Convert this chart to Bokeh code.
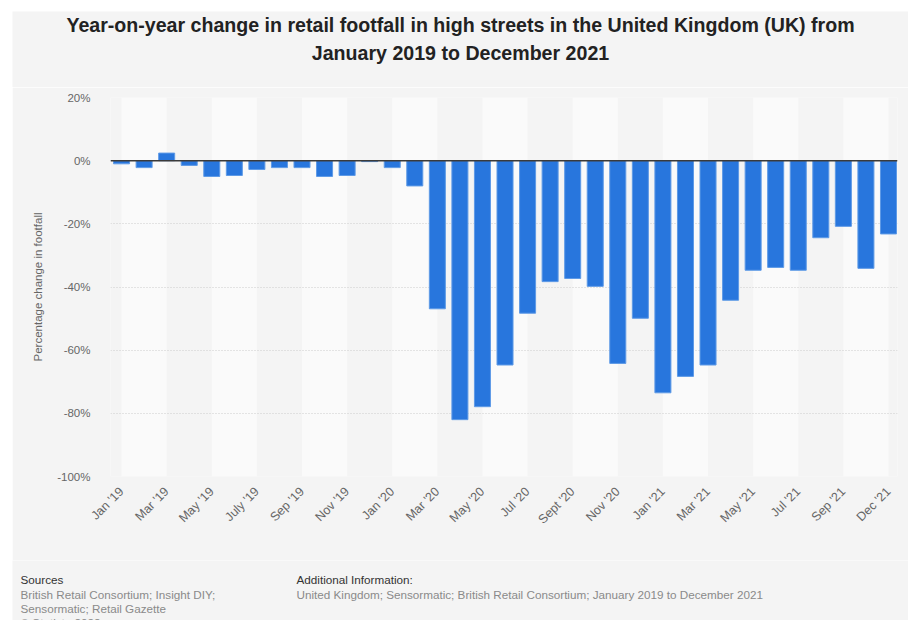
import math
from bokeh.plotting import figure
from bokeh.models import FixedTicker, PrintfTickFormatter, Span, Spacer
from bokeh.layouts import column, row
from bokeh.embed import file_html
from bokeh.resources import INLINE
from bokeh.core.properties import value

# ---------------- data ----------------
months = [
    "Jan 2019", "Feb 2019", "Mar 2019", "Apr 2019", "May 2019", "Jun 2019",
    "Jul 2019", "Aug 2019", "Sep 2019", "Oct 2019", "Nov 2019", "Dec 2019",
    "Jan 2020", "Feb 2020", "Mar 2020", "Apr 2020", "May 2020", "Jun 2020",
    "Jul 2020", "Aug 2020", "Sep 2020", "Oct 2020", "Nov 2020", "Dec 2020",
    "Jan 2021", "Feb 2021", "Mar 2021", "Apr 2021", "May 2021", "Jun 2021",
    "Jul 2021", "Aug 2021", "Sep 2021", "Oct 2021", "Dec 2021",
]
change_pct = [
    -1.0, -2.2, 2.4, -1.5, -5.0, -4.7, -2.8, -2.2, -2.2, -5.0, -4.7, -0.3,
    -2.2, -8.0, -46.9, -82.0, -77.9, -64.7, -48.3, -38.3, -37.3, -39.8, -64.2, -49.9,
    -73.5, -68.3, -64.7, -44.2, -34.7, -33.8, -34.7, -24.4, -20.8, -34.1, -23.2,
]
tick_labels = [
    "Jan '19", "", "Mar '19", "", "May '19", "", "July '19", "", "Sep '19", "",
    "Nov '19", "", "Jan '20", "", "Mar '20", "", "May '20", "", "Jul '20", "",
    "Sept '20", "", "Nov '20", "", "Jan '21", "", "Mar '21", "", "May '21", "",
    "Jul '21", "", "Sep '21", "", "Dec '21",
]
y_ticks = [20, 0, -20, -40, -60, -80, -100]

title_lines = [
    "Year-on-year change in retail footfall in high streets in the United Kingdom (UK) from",
    "January 2019 to December 2021",
]
y_label = "Percentage change in footfall"
sources_head = "Sources"
sources_lines = ["British Retail Consortium; Insight DIY;", "Sensormatic; Retail Gazette", "© Statista 2022"]
info_head = "Additional Information:"
info_lines = ["United Kingdom; Sensormatic; British Retail Consortium; January 2019 to December 2021"]

# ---------------- style / layout ----------------
FONT = "Liberation Sans"
BG = "#f4f4f4"
W = 896
TITLE_H, MAIN_H, FOOT_H = 76, 473, 60


def text_panel(height):
    f = figure(width=W, height=height, x_range=(0, W), y_range=(height, 0),
               output_backend="svg", toolbar_location=None,
               x_axis_location=None, y_axis_location=None, min_border=0,
               background_fill_color=BG, border_fill_color=BG, outline_line_color=None)
    f.grid.visible = False
    return f


# title panel
t = text_panel(TITLE_H)
t.text(x=[448, 448], y=[13, 41], text=title_lines,
       text_align="center", text_baseline="middle",
       text_font=value(FONT), text_font_style="bold", text_font_size="19.6px",
       text_color="#222222")

# main chart
x = list(range(len(months)))
p = figure(
    width=W, height=MAIN_H,
    x_range=(-0.49, 34.4), y_range=(-100, 20),
    output_backend="svg", toolbar_location=None,
    min_border_left=98, min_border_right=11, min_border_top=10, min_border_bottom=84,
    background_fill_color=BG, border_fill_color=BG, outline_line_color=None,
)

band_left = [i for i in x if i % 4 == 0 and i + 2 < len(x)]
bands = p.quad(left=band_left, right=[b + 2 for b in band_left], bottom=-100, top=20,
               fill_color="#fafafa", line_color=None)
bands.level = "image"

p.vbar(x=x, top=change_pct, bottom=0, width=0.71,
       fill_color="#2876dd", line_color="#5e9ae6", line_width=1)

p.add_layout(Span(location=0, dimension="width", line_color="#3a3a3a", line_width=1.5))

p.xgrid.visible = False
p.ygrid.ticker = FixedTicker(ticks=y_ticks)
p.ygrid.grid_line_color = "#cdcdcd"
p.ygrid.grid_line_dash = "1 2"
p.ygrid.grid_line_width = 1

ya = p.yaxis[0]
ya.ticker = FixedTicker(ticks=y_ticks)
ya.formatter = PrintfTickFormatter(format="%d%%")
ya.axis_line_color = None
ya.major_tick_line_color = None
ya.minor_tick_line_color = None
ya.major_tick_out = 0
ya.major_tick_in = 0
ya.major_label_standoff = 20
ya.major_label_text_font = FONT
ya.major_label_text_font_size = "11.5px"
ya.major_label_text_color = "#666666"
ya.axis_label = y_label
ya.axis_label_text_font = FONT
ya.axis_label_text_font_size = "11.5px"
ya.axis_label_text_font_style = "normal"
ya.axis_label_text_color = "#666666"
ya.axis_label_standoff = 10

xa = p.xaxis[0]
tick_pos = [i for i, lab in enumerate(tick_labels) if lab]
xa.ticker = FixedTicker(ticks=tick_pos)
xa.major_label_overrides = {i: tick_labels[i] for i in tick_pos}
xa.major_label_orientation = math.pi / 4
xa.axis_line_color = None
xa.major_tick_line_color = None
xa.minor_tick_line_color = None
xa.major_tick_out = 0
xa.major_tick_in = 0
xa.major_label_standoff = 13
xa.major_label_text_font = FONT
xa.major_label_text_font_size = "12.5px"
xa.major_label_text_color = "#666666"

# footer panel
f = text_panel(FOOT_H)
f.text(x=[8, 284], y=[19, 19], text=[sources_head, info_head],
       text_align="left", text_baseline="middle",
       text_font=value(FONT), text_font_size="11.7px", text_color="#333333")
f.text(x=[8] * len(sources_lines), y=[34 + 13.8 * i for i in range(len(sources_lines))],
       text=sources_lines, text_align="left", text_baseline="middle",
       text_font=value(FONT), text_font_size="11.7px", text_color="#8a8a8a")
f.text(x=[284] * len(info_lines), y=[34 + 13.8 * i for i in range(len(info_lines))],
       text=info_lines, text_align="left", text_baseline="middle",
       text_font=value(FONT), text_font_size="11.7px", text_color="#8a8a8a")

layout = column(Spacer(height=11),
                row(Spacer(width=12), column(row(t), row(p), row(f))))

open("out.html", "w").write(file_html(layout, INLINE))
